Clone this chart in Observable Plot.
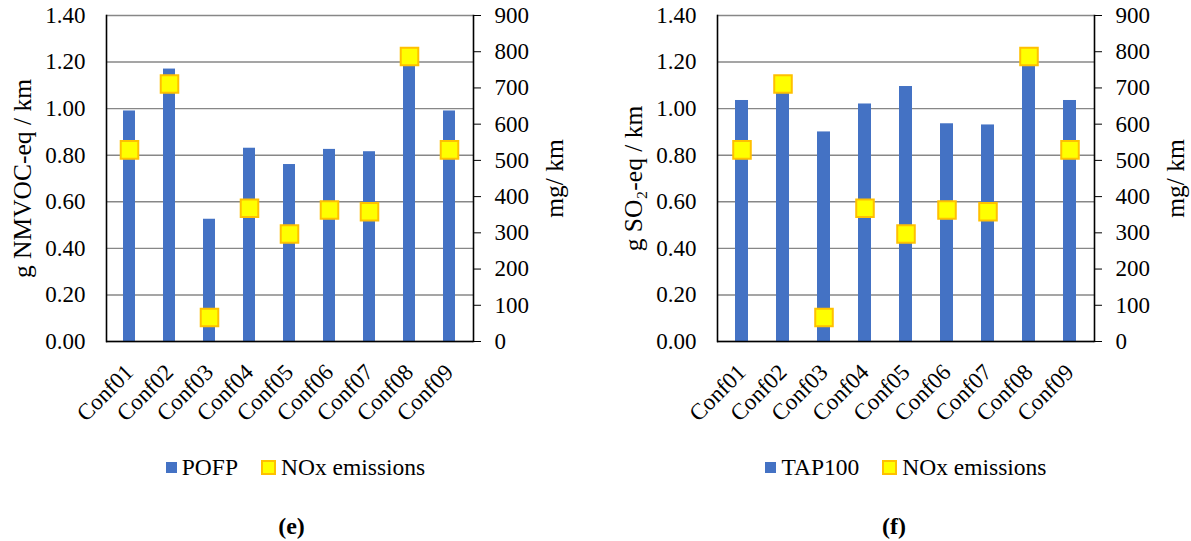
<!DOCTYPE html>
<html><head><meta charset="utf-8">
<script src="https://cdn.jsdelivr.net/npm/d3@7"></script>
<script src="https://cdn.jsdelivr.net/npm/@observablehq/plot@0.6"></script>
<style>
body{margin:0;background:#fff;font-family:"Liberation Serif",Tinos,"Times New Roman","DejaVu Serif",serif;color:#000;}
#wrap{display:flex;width:1191px;height:541px;overflow:hidden;}
.panel{position:relative;height:541px;}
.legend{position:absolute;top:455px;left:0;width:100%;display:flex;justify-content:center;align-items:center;font-size:23.5px;line-height:24px;white-space:nowrap;}
.sw{display:inline-block;box-sizing:border-box;margin-right:5px;}
.sw.bar{width:11px;height:11px;background:#4472C4;}
.sw.dot{width:15px;height:15px;background:#FFFF00;border:2px solid #FFC000;margin-left:23px;}
.cap{position:absolute;top:513px;left:0;width:100%;text-align:center;font-size:24px;font-weight:bold;line-height:26px;}
svg text{font-family:"Liberation Serif",Tinos,"Times New Roman","DejaVu Serif",serif;}
</style></head><body>
<div id="wrap"><div class="panel" id="p1"></div><div class="panel" id="p2"></div></div>
<script>
const confs = ["Conf01","Conf02","Conf03","Conf04","Conf05","Conf06","Conf07","Conf08","Conf09"];
const pofp = [0.99, 1.17, 0.525, 0.83, 0.76, 0.825, 0.815, 1.22, 0.99];
const tap100 = [1.035, 1.10, 0.90, 1.02, 1.095, 0.935, 0.93, 1.22, 1.035];
const nox = [529, 711, 66, 368, 297, 363, 358, 787, 529];
const leftTicks = [0, 0.2, 0.4, 0.6, 0.8, 1.0, 1.2, 1.4];
const rightTicks = [0, 100, 200, 300, 400, 500, 600, 700, 800, 900];
const leftMax = 1.4, rightMax = 900;
const serif = "'Liberation Serif', Tinos, 'Times New Roman', 'DejaVu Serif', serif";

function panel(el, o) {
  const k = leftMax / rightMax;
  const data = confs.map((c, i) => ({conf: c, v: o.values[i], nox: nox[i]}));
  const chart = Plot.plot({
    width: o.width, height: 431,
    marginTop: 15, marginBottom: 90, marginLeft: o.marginLeft, marginRight: o.marginRight,
    style: {fontFamily: serif, fontSize: "23px", color: "black", background: "white", overflow: "visible"},
    x: {domain: confs, paddingInner: 0.69, paddingOuter: 0.345},
    y: {domain: [0, leftMax]},
    marks: [
      Plot.ruleY(leftTicks, {stroke: "#878787", strokeWidth: 1.4}),
      Plot.barY(data, {x: "conf", y: "v", fill: "#4472C4"}),
      Plot.dot(data, {x: "conf", y: d => d.nox * k, symbol: "square", r: 9.9, fill: "#FFFF00", stroke: "#FFC000", strokeWidth: 2}),
      Plot.ruleY([0], {stroke: "black", strokeWidth: 1.6}),
      Plot.frame({anchor: "left", stroke: "black", strokeWidth: 1.6}),
      Plot.frame({anchor: "right", stroke: "black", strokeWidth: 1.6}),
      Plot.axisY(leftTicks, {anchor: "left", tickSize: 0, tickPadding: 21, tickFormat: d => d.toFixed(2), label: null}),
      Plot.axisY(rightTicks.map(v => v * k), {anchor: "right", tickSize: 7, tickPadding: 14, tickFormat: d => String(Math.round(d / k)), label: null}),
      Plot.axisX({tickSize: 0, tickRotate: -45, tickPadding: 27, label: null}),
      Plot.text([o.yLabel], {text: d => d, frameAnchor: "left", textAnchor: "middle", rotate: -90, dx: -84, lineAnchor: "middle", fontSize: 25.5}),
      Plot.text(["mg/ km"], {text: d => d, frameAnchor: "right", textAnchor: "middle", rotate: -90, dx: 81, lineAnchor: "middle", fontSize: 25.5})
    ]
  });
  el.style.width = o.width + "px";
  el.appendChild(chart);
  const lg = document.createElement("div");
  lg.className = "legend";
  lg.style.transform = `translateX(${o.legendShift}px)`;
  lg.innerHTML = `<span class="sw bar"></span><span>${o.series}</span><span class="sw dot"></span><span>NOx emissions</span>`;
  el.appendChild(lg);
  const cap = document.createElement("div");
  cap.className = "cap";
  cap.style.transform = `translateX(${o.capShift}px)`;
  cap.textContent = o.caption;
  el.appendChild(cap);
}

panel(document.getElementById("p1"), {width: 595, marginLeft: 106, marginRight: 122, values: pofp,
  yLabel: "g NMVOC-eq / km", series: "POFP", caption: "(e)", legendShift: -2, capShift: -6});
panel(document.getElementById("p2"), {width: 596, marginLeft: 122, marginRight: 97, values: tap100,
  yLabel: "g SO₂-eq / km", series: "TAP100", caption: "(f)", legendShift: 13, capShift: 1});
</script>
</body></html>
